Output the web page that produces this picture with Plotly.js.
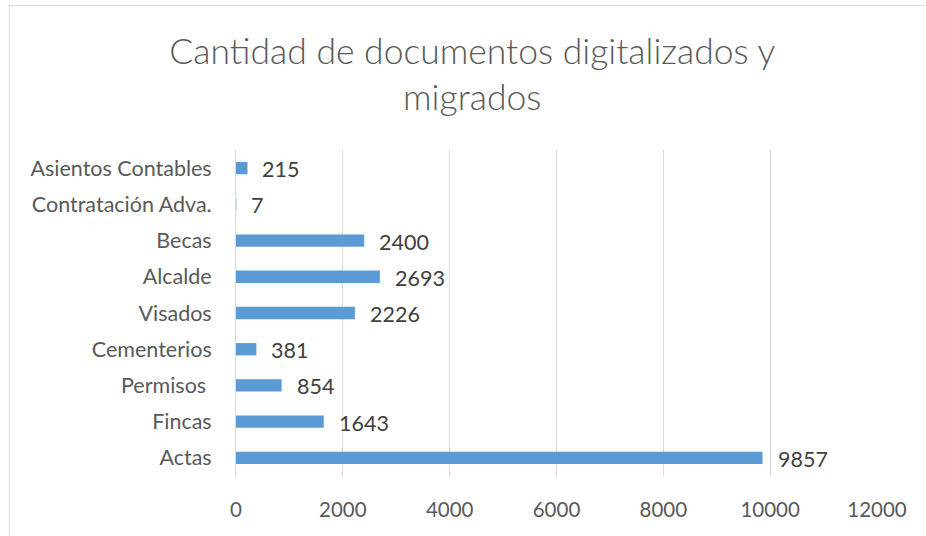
<!DOCTYPE html>
<html>
<head>
<meta charset="utf-8">
<script src="https://cdn.plot.ly/plotly-3.0.1.min.js"></script>
<style>
html,body{margin:0;padding:0;background:#fff;overflow:hidden;}
#frame{position:absolute;left:9px;top:5px;width:940px;height:560px;border:1px solid #d9d9d9;box-sizing:border-box;}
#chart{position:absolute;left:0;top:0;width:926px;height:536px;}
</style>
</head>
<body>
<div id="frame"></div>
<div id="chart"></div>
<script>
const categories = ["Actas","Fincas","Permisos ","Cementerios","Visados","Alcalde","Becas","Contratación Adva.","Asientos Contables"];
const values = [9857,1643,854,381,2226,2693,2400,7,215];
const xTicks = [0,2000,4000,6000,8000,10000,12000];
const titleText = "Cantidad de documentos digitalizados y<br>migrados";

const FONT = "Lato, 'Open Sans', sans-serif";

const annotations = values.map((v,i)=>({
  x: v, y: categories[i], xref:'x', yref:'y',
  text: String(v), showarrow:false, xanchor:'left', yanchor:'middle',
  xshift: 13, yshift: -1,
  font:{family:FONT,size:21.5,color:'#404040'}
}));

const trace = {
  type:'bar', orientation:'h',
  x: values, y: categories,
  marker:{color:'#5b9bd5'},
  hoverinfo:'none'
};

const layout = {
  width:926, height:536,
  margin:{l:236,r:49,t:150,b:60},
  paper_bgcolor:'rgba(0,0,0,0)', plot_bgcolor:'#fff',
  showlegend:false,
  bargap:0.66,
  title:{text:titleText, x:0.51, xref:'container', xanchor:'center', y:0.88, yanchor:'middle', yref:'container',
    font:{family:FONT,size:35.5,color:'#595959',weight:300}},
  xaxis:{range:[0,12000], tickvals:xTicks, ticktext:xTicks.map(String),
    showgrid:true, gridcolor:'#d9d9d9', gridwidth:1, zeroline:false, showline:false,
    ticks:'outside', ticklen:15, tickcolor:'rgba(0,0,0,0)',
    tickfont:{family:FONT,size:20.5,color:'#595959'}, fixedrange:true},
  yaxis:{type:'category', categoryorder:'array', categoryarray:categories,
    range:[-0.5,8.5], showgrid:false, zeroline:false,
    showline:true, linecolor:'#d9d9d9', linewidth:1,
    ticks:'outside', ticklen:19, tickcolor:'rgba(0,0,0,0)',
    tickfont:{family:FONT,size:21.5,color:'#595959'}, fixedrange:true},
  annotations: annotations
};

Plotly.newPlot('chart',[trace],layout,{displayModeBar:false,staticPlot:true});
</script>
</body>
</html>
